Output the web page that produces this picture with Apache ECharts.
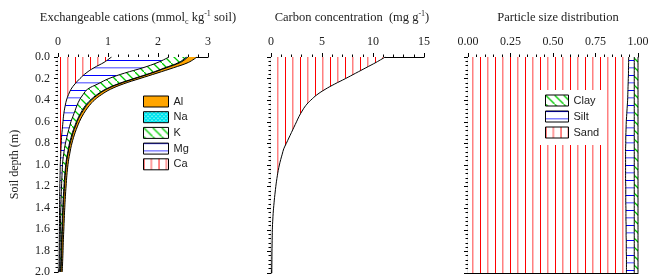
<!DOCTYPE html>
<html>
<head>
<meta charset="utf-8">
<script src="https://cdn.jsdelivr.net/npm/echarts@6/dist/echarts.min.js"></script>
<style>
  html, body { margin: 0; padding: 0; background: #fff; }
  #chart { width: 660px; height: 278px; }
</style>
</head>
<body>
<div id="chart"></div>
<script>
// soil depth (m), one row every 5 cm
const depths = ['0.00','0.05','0.10','0.15','0.20','0.25','0.30','0.35','0.40','0.45','0.50',
  '0.55','0.60','0.65','0.70','0.75','0.80','0.85','0.90','0.95','1.00',
  '1.05','1.10','1.15','1.20','1.25','1.30','1.35','1.40','1.45','1.50',
  '1.55','1.60','1.65','1.70','1.75','1.80','1.85','1.90','1.95','2.00'];

// exchangeable cations (mmolc/kg), stacked Ca -> Mg -> K -> Na -> Al
const caVals = [1.07,0.92,0.72,0.56,0.44,0.34,0.26,0.21,0.17,0.145,0.125,0.11,0.10,0.09,0.08,0.07,0.065,0.06,0.055,0.05,0.045,
  0.043,0.041,0.039,0.037,0.035,0.034,0.033,0.032,0.031,0.030,0.029,0.028,0.027,0.026,0.025,0.024,0.023,0.022,0.021,0.020];
const mgVals = [1.15,1.08,0.98,0.77,0.58,0.46,0.33,0.29,0.26,0.235,0.215,0.19,0.16,0.14,0.12,0.105,0.085,0.07,0.06,0.05,0.045,
  0.042,0.039,0.036,0.034,0.032,0.029,0.027,0.025,0.023,0.022,0.021,0.020,0.019,0.018,0.017,0.016,0.016,0.016,0.015,0.015];
const kVals = [0.35,0.42,0.44,0.52,0.50,0.40,0.36,0.28,0.22,0.17,0.14,0.12,0.11,0.10,0.09,0.085,0.08,0.08,0.075,0.07,0.065,
  0.06,0.055,0.052,0.049,0.046,0.044,0.041,0.039,0.037,0.035,0.033,0.031,0.029,0.027,0.026,0.025,0.023,0.020,0.018,0.015];
const naVals = [0.03,0.03,0.03,0.02,0.02,0.02,0.02,0.02,0.02,0.02,0.02,0.015,0.015,0.015,0.015,0.015,0.015,0.01,0.01,0.01,0.01,
  0.01,0.01,0.01,0.01,0.01,0.01,0.01,0.01,0.01,0.01,0.01,0.01,0.01,0.01,0.01,0.01,0.01,0.01,0.01,0.01];
const alVals = [0.18,0.16,0.14,0.11,0.10,0.09,0.08,0.07,0.06,0.06,0.05,0.05,0.045,0.04,0.04,0.035,0.035,0.035,0.035,0.035,0.035,
  0.033,0.033,0.032,0.032,0.031,0.031,0.030,0.030,0.029,0.029,0.028,0.028,0.027,0.027,0.026,0.026,0.025,0.025,0.025,0.025];

// carbon concentration (mg/g)
const carbonVals = [11.2,10.3,9.3,8.3,7.3,6.25,5.3,4.5,3.9,3.4,3.05,2.75,2.5,2.25,2.0,1.75,1.5,1.25,1.1,0.95,0.82,
  0.71,0.62,0.54,0.47,0.41,0.35,0.30,0.25,0.21,0.18,0.15,0.13,0.12,0.11,0.10,0.09,0.085,0.08,0.075,0.07];

// particle size fractions, stacked Sand -> Silt -> Clay
const sandVals = [0.945,0.945,0.944,0.944,0.943,0.942,0.941,0.940,0.939,0.937,0.935,0.933,0.931,0.930,0.929,0.928,0.928,0.927,0.927,0.927,
  0.927,0.927,0.927,0.927,0.928,0.928,0.928,0.928,0.929,0.929,0.929,0.930,0.930,0.930,0.931,0.931,0.931,0.932,0.932,0.932,0.932];
const siltVals = [0.033,0.033,0.034,0.034,0.035,0.036,0.037,0.038,0.039,0.041,0.043,0.045,0.047,0.048,0.049,0.050,0.050,0.051,0.051,0.051,
  0.051,0.051,0.051,0.051,0.050,0.050,0.050,0.050,0.049,0.049,0.049,0.048,0.048,0.048,0.047,0.047,0.047,0.046,0.046,0.046,0.046];
const clayVals = [0.022,0.022,0.022,0.022,0.022,0.022,0.022,0.022,0.022,0.022,0.022,0.022,0.022,0.022,0.022,0.022,0.022,0.022,0.022,0.022,
  0.022,0.022,0.022,0.022,0.022,0.022,0.022,0.022,0.022,0.022,0.022,0.022,0.022,0.022,0.022,0.022,0.022,0.022,0.022,0.022,0.022];

const cationNames = ['Al', 'Na', 'K', 'Mg', 'Ca'];
const textureNames = ['Clay', 'Silt', 'Sand'];

function makePattern(w, h, draw) {
  const c = document.createElement('canvas');
  c.width = w;
  c.height = h;
  const ctx = c.getContext('2d');
  ctx.fillStyle = '#fff';
  ctx.fillRect(0, 0, w, h);
  draw(ctx);
  return { image: c, repeat: 'repeat' };
}

const redVert = makePattern(15, 4, ctx => {
  ctx.fillStyle = '#ff0000';
  ctx.fillRect(0, 0, 1, 4);
  ctx.fillStyle = '#ff8080';
  ctx.fillRect(7, 0, 1.5, 4);
});
const blueHoriz = makePattern(4, 15, ctx => {
  ctx.fillStyle = '#0000ff';
  ctx.fillRect(0, 0, 4, 1);
  ctx.fillStyle = '#8080ff';
  ctx.fillRect(0, 7, 4, 1.5);
});
const greenDiag = makePattern(9, 9, ctx => {
  ctx.strokeStyle = '#00cc00';
  ctx.lineWidth = 1.3;
  ctx.beginPath();
  ctx.moveTo(-1, -1); ctx.lineTo(10, 10);
  ctx.stroke();
});
const cyanHatch = makePattern(4, 4, ctx => {
  ctx.fillStyle = '#00e5ee';
  ctx.fillRect(0, 0, 4, 4);
  ctx.fillStyle = '#ffffff';
  ctx.fillRect(0, 0, 1, 1);
  ctx.fillRect(2, 2, 1, 1);
});
const orange = '#ffa500';

const fills = { Al: orange, Na: cyanHatch, K: greenDiag, Mg: blueHoriz, Ca: redVert,
  Clay: greenDiag, Silt: blueHoriz, Sand: redVert };

const serif = 'Liberation Serif, Times New Roman, serif';
const txt = '#222';

function band(name, data, stack, xi, yi) {
  return {
    name: name,
    type: 'line',
    stack: stack,
    data: data,
    xAxisIndex: xi,
    yAxisIndex: yi,
    smooth: 0.4,
    symbol: 'none',
    silent: true,
    lineStyle: { color: '#000', width: 1 },
    itemStyle: { color: '#000' },
    areaStyle: { color: fills[name], opacity: 1 },
    emphasis: { disabled: true },
  };
}

const rich = {
  a: { fontFamily: serif, fontSize: 12.5, fontWeight: 'normal', color: txt, lineHeight: 16 },
  s: { fontFamily: serif, fontSize: 8, fontWeight: 'normal', color: txt, lineHeight: 8, verticalAlign: 'bottom' },
  p: { fontFamily: serif, fontSize: 8, fontWeight: 'normal', color: txt, lineHeight: 8, verticalAlign: 'top' },
};

const grids = [
  { left: 58, top: 57, width: 150, height: 216 },
  { left: 271, top: 57, width: 153, height: 216 },
  { left: 468, top: 57, width: 170, height: 216 },
];

function topAxis(gi, max, interval, digits) {
  return {
    type: 'value', gridIndex: gi, position: 'top', min: 0, max: max, interval: interval,
    axisLine: { show: true, lineStyle: { color: '#000', width: 1.2 } },
    axisTick: { show: true, length: 4, lineStyle: { color: '#000' } },
    minorTick: { show: true, splitNumber: 5, length: 2.5, lineStyle: { color: '#000' } },
    splitLine: { show: false },
    axisLabel: { margin: 9, fontFamily: serif, fontSize: 12, color: txt,
      formatter: v => v.toFixed(digits) },
  };
}

function depthAxis(gi, showLabels) {
  return {
    type: 'value', gridIndex: gi, position: 'left', min: 0, max: 2, interval: 0.2, inverse: true,
    axisLine: { show: true, lineStyle: { color: '#000', width: 1.2 } },
    axisTick: { show: true, length: 4, lineStyle: { color: '#000' } },
    minorTick: { show: true, splitNumber: 5, length: 2.5, lineStyle: { color: '#000' } },
    splitLine: { show: false },
    axisLabel: { show: showLabels, margin: 8, fontFamily: serif, fontSize: 12, color: txt,
      formatter: v => v.toFixed(1) },
  };
}

function catAxis(gi) {
  return { type: 'category', gridIndex: gi, data: depths, inverse: true, boundaryGap: false, show: false };
}

const yAxes = [catAxis(0), depthAxis(0, true), catAxis(1), depthAxis(1, false), catAxis(2), depthAxis(2, false)];
yAxes[1].name = 'Soil depth (m)';
yAxes[1].nameLocation = 'middle';
yAxes[1].nameGap = 37;
yAxes[1].nameTextStyle = { fontFamily: serif, fontSize: 12, color: txt };

const xAxes = [topAxis(0, 3, 1, 0), topAxis(1, 15, 5, 0), topAxis(2, 1, 0.25, 2)];
xAxes.push({
  type: 'value', gridIndex: 2, position: 'bottom', min: 0, max: 1,
  axisLine: { show: true, lineStyle: { color: '#000', width: 1.2 } },
  axisTick: { show: false }, axisLabel: { show: false }, splitLine: { show: false },
});

function legendData(names) {
  return names.map(n => ({ name: n, itemStyle: { color: fills[n], borderColor: '#000', borderWidth: 1 } }));
}

const legendText = { fontFamily: 'Liberation Sans, Arial, sans-serif', fontSize: 11, color: txt };

const option = {
  animation: false,
  backgroundColor: '#fff',
  title: [
    { text: '{a|Exchangeable cations (mmol}{s|c}{a| kg}{p|-1}{a| soil)}', left: 133, top: 5, textAlign: 'center', textStyle: { fontWeight: 'normal', rich: rich } },
    { text: '{a|Carbon concentration  (mg g}{p|-1}{a|)}', left: 347, top: 5, textAlign: 'center', textStyle: { fontWeight: 'normal', rich: rich } },
    { text: '{a|Particle size distribution}', left: 553, top: 5, textAlign: 'center', textStyle: { fontWeight: 'normal', rich: rich } },
  ],
  legend: [
    {
      orient: 'vertical', left: 138, top: 90.5, padding: 5, itemWidth: 25, itemHeight: 11, itemGap: 3.7,
      icon: 'rect', selectedMode: false, textStyle: legendText, data: legendData(cationNames),
    },
    {
      orient: 'vertical', left: 539, top: 90, padding: [4.5, 3, 6.5, 6], itemWidth: 23, itemHeight: 11, itemGap: 4,
      icon: 'rect', selectedMode: false, backgroundColor: '#fff', textStyle: legendText, data: legendData(textureNames),
    },
  ],
  grid: grids,
  xAxis: xAxes,
  yAxis: yAxes,
  series: [
    band('Ca', caVals, 'cat', 0, 0),
    band('Mg', mgVals, 'cat', 0, 0),
    band('K', kVals, 'cat', 0, 0),
    band('Na', naVals, 'cat', 0, 0),
    band('Al', alVals, 'cat', 0, 0),
    {
      name: 'Carbon', type: 'line', data: carbonVals, xAxisIndex: 1, yAxisIndex: 2,
      smooth: 0.4, symbol: 'none', silent: true,
      lineStyle: { color: '#000', width: 1 }, itemStyle: { color: '#000' },
      areaStyle: { color: redVert, opacity: 1 },
    },
    band('Sand', sandVals, 'tex', 2, 4),
    band('Silt', siltVals, 'tex', 2, 4),
    band('Clay', clayVals, 'tex', 2, 4),
  ],
};

const myChart = echarts.init(document.getElementById('chart'), null, { renderer: 'canvas' });
myChart.setOption(option);
</script>
</body>
</html>
